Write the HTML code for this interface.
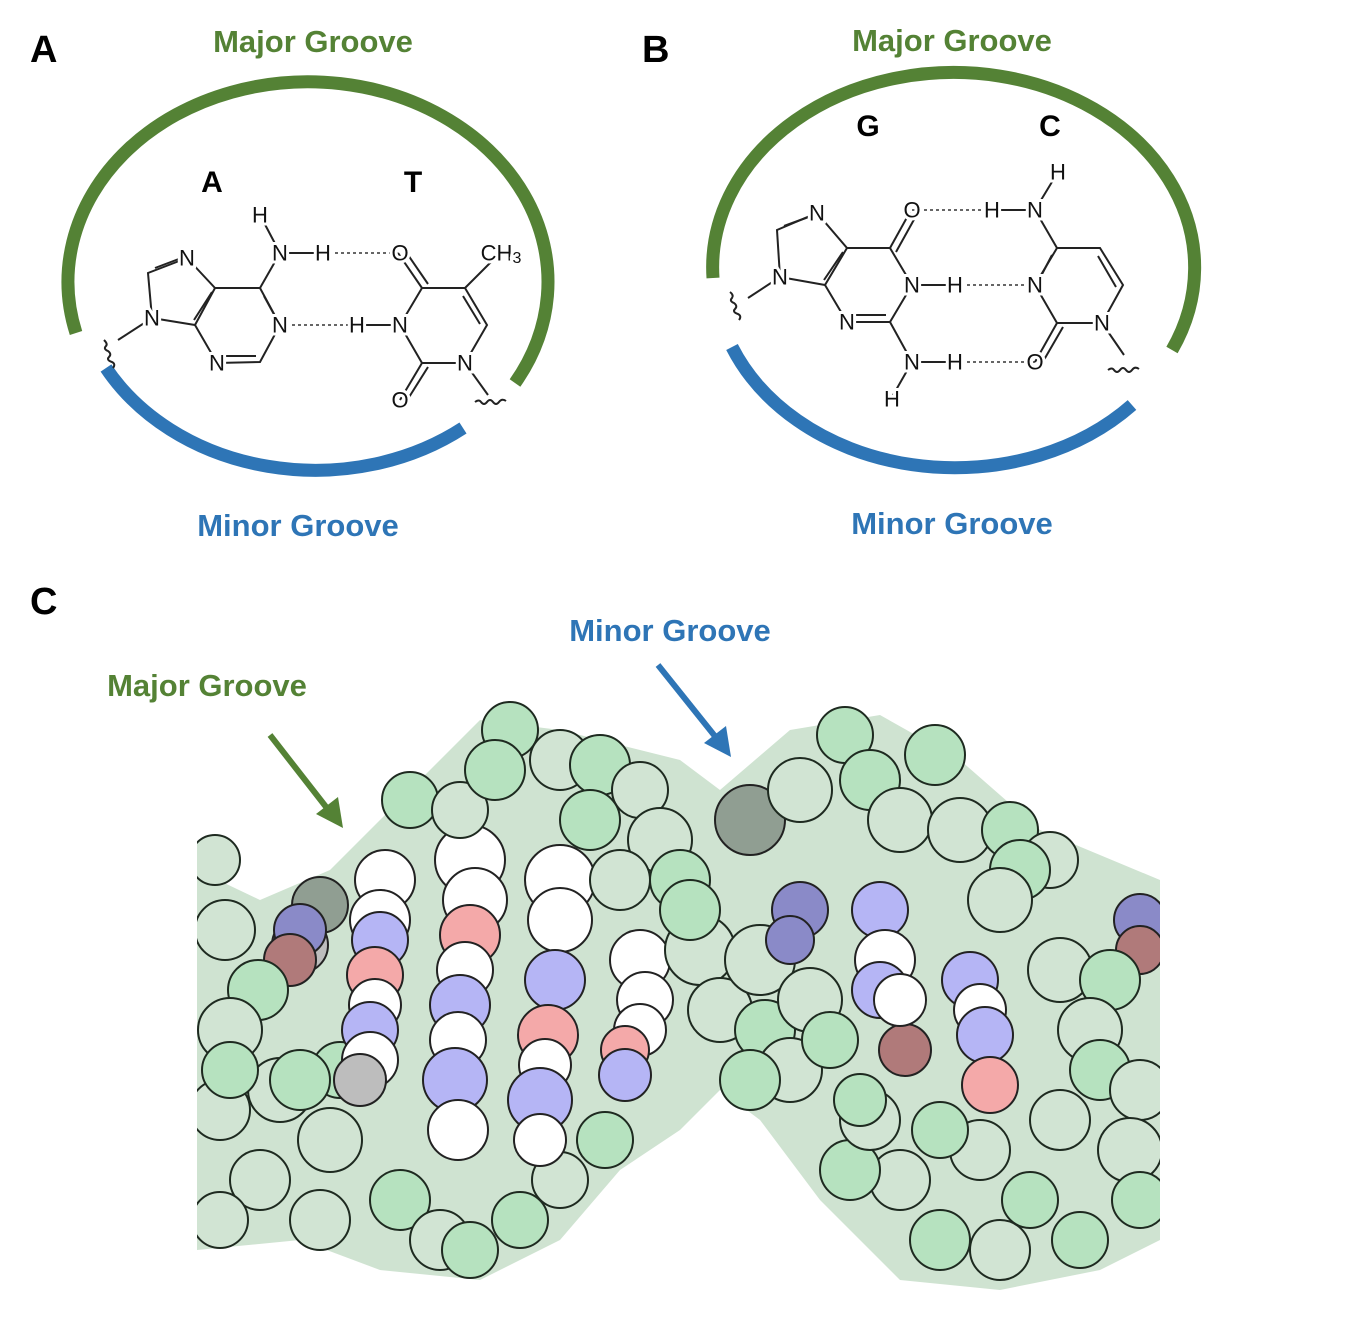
<!DOCTYPE html>
<html><head><meta charset="utf-8"><style>
html,body{margin:0;padding:0;background:#fff}
svg{display:block}
.lbl{font-family:"Liberation Sans",sans-serif;font-weight:bold}
.at{font-family:"Liberation Sans",sans-serif;font-size:22px;fill:#111;stroke:#fff;stroke-width:6px;paint-order:stroke;text-anchor:middle;dominant-baseline:central}
.b{stroke:#222;stroke-width:2;fill:none}
.hb{stroke:#333;stroke-width:1.6;stroke-dasharray:3,3;fill:none}
.g{fill:#b6e2bf;stroke:#1e2a20;stroke-width:2}
.p{fill:#d1e4d3;stroke:#1e2a20;stroke-width:2}
.w{fill:#fff;stroke:#222;stroke-width:2}
.bl{fill:#b5b5f5;stroke:#222;stroke-width:2}
.r{fill:#f4a9a9;stroke:#222;stroke-width:2}
.dg{fill:#909e92;stroke:#222;stroke-width:2}
.gr{fill:#bdbdbd;stroke:#222;stroke-width:2}
.db{fill:#8a8ac8;stroke:#222;stroke-width:2}
.dr{fill:#b07a7a;stroke:#222;stroke-width:2}
</style></head><body>
<svg width="1357" height="1331" viewBox="0 0 1357 1331" xmlns="http://www.w3.org/2000/svg">
<!-- Panel A -->
<text class="lbl" x="30" y="62" font-size="38">A</text>
<text class="lbl" x="313" y="52" font-size="31" fill="#548235" text-anchor="middle">Major Groove</text>
<text class="lbl" x="298" y="536" font-size="31" fill="#2e75b6" text-anchor="middle">Minor Groove</text>
<path d="M76,333 A240,200 0 1 1 515,383" fill="none" stroke="#548235" stroke-width="13"/>
<path d="M106,368 A240,200 0 0 0 463,428" fill="none" stroke="#2e75b6" stroke-width="13"/>
<text class="lbl" x="212" y="192" font-size="30" text-anchor="middle">A</text>
<text class="lbl" x="413" y="192" font-size="30" text-anchor="middle">T</text>
<g>
<polyline class="b" points="152,318 148,273 187,258 215,288 195,325 152,318"/>
<line class="b" x1="155" y1="268" x2="184" y2="257"/>
<line class="b" x1="212" y1="292" x2="194" y2="320"/>
<polyline class="b" points="215,288 260,288 280,325 260,362 217,363 195,325"/>
<line class="b" x1="264" y1="296" x2="276" y2="318"/>
<line class="b" x1="222" y1="356" x2="256" y2="356"/>
<line class="b" x1="260" y1="288" x2="280" y2="253"/>
<line class="b" x1="280" y1="253" x2="260" y2="215"/>
<line class="b" x1="280" y1="253" x2="323" y2="253"/>
<line class="hb" x1="323" y1="253" x2="398" y2="253"/>
<line class="hb" x1="280" y1="325" x2="357" y2="325"/>
<line class="b" x1="152" y1="318" x2="118" y2="340"/>
<path d="M104,340 q4,4 2,6 q-3,3 2,5 q4,3 1,6 q-3,3 3,5 q4,2 1,6" class="b" stroke-width="1.5"/>
<polyline class="b" points="422,288 465,288 487,325 465,363 422,363 400,325 422,288"/>
<line class="b" x1="463" y1="296" x2="480" y2="324"/>
<line class="b" x1="422" y1="288" x2="398" y2="253"/>
<line class="b" x1="428" y1="284" x2="406" y2="252"/>
<line class="b" x1="465" y1="288" x2="500" y2="253"/>
<line class="b" x1="400" y1="325" x2="357" y2="325"/>
<line class="b" x1="422" y1="363" x2="400" y2="400"/>
<line class="b" x1="428" y1="367" x2="406" y2="402"/>
<line class="b" x1="465" y1="363" x2="488" y2="395"/>
<path d="M475,402 q4,-3 6,0 q3,4 6,0 q3,-4 6,0 q3,4 6,0 q3,-4 7,-1" class="b" stroke-width="1.5"/>
<text class="at" x="152" y="318">N</text>
<text class="at" x="187" y="258">N</text>
<text class="at" x="280" y="325">N</text>
<text class="at" x="217" y="363">N</text>
<text class="at" x="280" y="253">N</text>
<text class="at" x="260" y="215">H</text>
<text class="at" x="323" y="253">H</text>
<text class="at" x="400" y="253">O</text>
<text class="at" x="400" y="325">N</text>
<text class="at" x="357" y="325">H</text>
<text class="at" x="465" y="363">N</text>
<text class="at" x="400" y="400">O</text>
<text class="at" x="501" y="253" text-anchor="start">CH<tspan font-size="16" dy="5">3</tspan></text>
</g>

<!-- Panel B -->
<text class="lbl" x="642" y="62" font-size="38">B</text>
<text class="lbl" x="952" y="51" font-size="31" fill="#548235" text-anchor="middle">Major Groove</text>
<text class="lbl" x="952" y="534" font-size="31" fill="#2e75b6" text-anchor="middle">Minor Groove</text>
<path d="M713,278 A241,195 0 1 1 1172,350" fill="none" stroke="#548235" stroke-width="13"/>
<path d="M732,347 A241,195 0 0 0 1132,405" fill="none" stroke="#2e75b6" stroke-width="13"/>
<text class="lbl" x="868" y="136" font-size="30" text-anchor="middle">G</text>
<text class="lbl" x="1050" y="136" font-size="30" text-anchor="middle">C</text>
<g>
<polyline class="b" points="780,277 777,230 817,213 847,248 825,285 780,277"/>
<line class="b" x1="784" y1="226" x2="814" y2="215"/>
<line class="b" x1="843" y1="252" x2="824" y2="280"/>
<polyline class="b" points="847,248 890,248 912,285 890,322 847,322 825,285"/>
<line class="b" x1="852" y1="315" x2="886" y2="315"/>
<line class="b" x1="890" y1="248" x2="910" y2="212"/>
<line class="b" x1="896" y1="252" x2="916" y2="216"/>
<line class="b" x1="912" y1="285" x2="955" y2="285"/>
<line class="b" x1="890" y1="322" x2="912" y2="362"/>
<line class="b" x1="912" y1="362" x2="955" y2="362"/>
<line class="b" x1="912" y1="362" x2="892" y2="397"/>
<line class="hb" x1="912" y1="210" x2="992" y2="210"/>
<line class="hb" x1="955" y1="285" x2="1035" y2="285"/>
<line class="hb" x1="955" y1="362" x2="1035" y2="362"/>
<line class="b" x1="780" y1="277" x2="748" y2="298"/>
<path d="M730,292 q4,3 2,6 q-3,3 2,5 q4,3 1,6 q-3,3 3,5 q4,2 1,6" class="b" stroke-width="1.5"/>
<polyline class="b" points="1057,248 1100,248 1123,285 1102,323 1057,323 1035,285 1057,248"/>
<line class="b" x1="1052" y1="255" x2="1040" y2="278"/>
<line class="b" x1="1098" y1="256" x2="1116" y2="287"/>
<line class="b" x1="1057" y1="248" x2="1035" y2="210"/>
<line class="b" x1="1035" y1="210" x2="1058" y2="172"/>
<line class="b" x1="1035" y1="210" x2="992" y2="210"/>
<line class="b" x1="1057" y1="323" x2="1035" y2="362"/>
<line class="b" x1="1063" y1="327" x2="1041" y2="365"/>
<line class="b" x1="1102" y1="323" x2="1124" y2="355"/>
<path d="M1108,370 q4,-3 6,0 q3,4 6,0 q3,-4 6,0 q3,4 6,0 q3,-4 7,-1" class="b" stroke-width="1.5"/>
<text class="at" x="780" y="277">N</text>
<text class="at" x="817" y="213">N</text>
<text class="at" x="912" y="285">N</text>
<text class="at" x="955" y="285">H</text>
<text class="at" x="847" y="322">N</text>
<text class="at" x="912" y="362">N</text>
<text class="at" x="955" y="362">H</text>
<text class="at" x="892" y="399">H</text>
<text class="at" x="912" y="210">O</text>
<text class="at" x="992" y="210">H</text>
<text class="at" x="1035" y="210">N</text>
<text class="at" x="1058" y="172">H</text>
<text class="at" x="1035" y="285">N</text>
<text class="at" x="1102" y="323">N</text>
<text class="at" x="1035" y="362">O</text>
</g>

<!-- Panel C -->
<text class="lbl" x="30" y="614" font-size="38">C</text>
<text class="lbl" x="670" y="641" font-size="31" fill="#2e75b6" text-anchor="middle">Minor Groove</text>
<text class="lbl" x="207" y="696" font-size="31" fill="#548235" text-anchor="middle">Major Groove</text>
<line x1="270" y1="735" x2="330" y2="812" stroke="#548235" stroke-width="6"/>
<polygon points="343,828 316,814 338,797" fill="#548235"/>
<line x1="658" y1="665" x2="718" y2="740" stroke="#2e75b6" stroke-width="6"/>
<polygon points="731,757 704,743 726,726" fill="#2e75b6"/>

<clipPath id="cl"><rect x="197" y="690" width="963" height="610"/></clipPath>
<g clip-path="url(#cl)">
<path d="M197,870 L260,900 330,870 400,800 480,720 560,730 680,760 720,790 790,730 880,715 960,760 1040,830 1160,880 L1160,1240 1100,1270 1000,1290 900,1280 820,1200 760,1120 720,1090 680,1130 620,1170 560,1240 480,1280 380,1270 300,1240 197,1250 Z" fill="#cfe3d1"/>
<circle class="dg" cx="320" cy="905" r="28"/><circle class="gr" cx="300" cy="945" r="28"/>
<circle class="db" cx="300" cy="930" r="26"/><circle class="dr" cx="290" cy="960" r="26"/>
<circle class="p" cx="215" cy="860" r="25"/><circle class="p" cx="225" cy="930" r="30"/>
<circle class="g" cx="258" cy="990" r="30"/><circle class="p" cx="230" cy="1030" r="32"/>
<circle class="p" cx="220" cy="1110" r="30"/><circle class="p" cx="280" cy="1090" r="32"/>
<circle class="g" cx="230" cy="1070" r="28"/>
<circle class="p" cx="260" cy="1180" r="30"/><circle class="p" cx="330" cy="1140" r="32"/>
<circle class="g" cx="340" cy="1070" r="28"/><circle class="p" cx="220" cy="1220" r="28"/>
<circle class="p" cx="320" cy="1220" r="30"/><circle class="g" cx="400" cy="1200" r="30"/>
<circle class="p" cx="440" cy="1240" r="30"/><circle class="g" cx="470" cy="1250" r="28"/>
<circle class="g" cx="520" cy="1220" r="28"/><circle class="p" cx="560" cy="1180" r="28"/>
<circle class="g" cx="605" cy="1140" r="28"/><circle class="g" cx="300" cy="1080" r="30"/>
<circle class="w" cx="385" cy="880" r="30"/><circle class="w" cx="380" cy="920" r="30"/>
<circle class="bl" cx="380" cy="940" r="28"/><circle class="r" cx="375" cy="975" r="28"/>
<circle class="w" cx="375" cy="1005" r="26"/><circle class="bl" cx="370" cy="1030" r="28"/>
<circle class="w" cx="370" cy="1060" r="28"/><circle class="gr" cx="360" cy="1080" r="26"/>
<circle class="w" cx="470" cy="860" r="35"/><circle class="w" cx="475" cy="900" r="32"/>
<circle class="r" cx="470" cy="935" r="30"/><circle class="w" cx="465" cy="970" r="28"/>
<circle class="bl" cx="460" cy="1005" r="30"/><circle class="w" cx="458" cy="1040" r="28"/>
<circle class="bl" cx="455" cy="1080" r="32"/><circle class="w" cx="458" cy="1130" r="30"/>
<circle class="w" cx="560" cy="880" r="35"/><circle class="w" cx="560" cy="920" r="32"/>
<circle class="bl" cx="555" cy="980" r="30"/><circle class="r" cx="548" cy="1035" r="30"/>
<circle class="w" cx="545" cy="1065" r="26"/><circle class="bl" cx="540" cy="1100" r="32"/>
<circle class="w" cx="540" cy="1140" r="26"/>
<circle class="w" cx="640" cy="960" r="30"/><circle class="w" cx="645" cy="1000" r="28"/>
<circle class="w" cx="640" cy="1030" r="26"/><circle class="r" cx="625" cy="1050" r="24"/>
<circle class="bl" cx="625" cy="1075" r="26"/>
<circle class="g" cx="410" cy="800" r="28"/><circle class="p" cx="460" cy="810" r="28"/>
<circle class="g" cx="510" cy="730" r="28"/><circle class="g" cx="495" cy="770" r="30"/>
<circle class="p" cx="560" cy="760" r="30"/><circle class="g" cx="600" cy="765" r="30"/>
<circle class="p" cx="640" cy="790" r="28"/><circle class="g" cx="590" cy="820" r="30"/>
<circle class="p" cx="660" cy="840" r="32"/><circle class="p" cx="620" cy="880" r="30"/>
<circle class="g" cx="680" cy="880" r="30"/>
<circle class="dg" cx="750" cy="820" r="35"/>
<circle class="p" cx="700" cy="950" r="35"/><circle class="g" cx="690" cy="910" r="30"/>
<circle class="p" cx="720" cy="1010" r="32"/><circle class="g" cx="765" cy="1030" r="30"/>
<circle class="p" cx="760" cy="960" r="35"/><circle class="p" cx="810" cy="1000" r="32"/>
<circle class="p" cx="790" cy="1070" r="32"/><circle class="g" cx="750" cy="1080" r="30"/>
<circle class="g" cx="845" cy="735" r="28"/><circle class="p" cx="800" cy="790" r="32"/>
<circle class="g" cx="870" cy="780" r="30"/><circle class="g" cx="935" cy="755" r="30"/>
<circle class="p" cx="900" cy="820" r="32"/><circle class="p" cx="960" cy="830" r="32"/>
<circle class="g" cx="1010" cy="830" r="28"/><circle class="p" cx="1050" cy="860" r="28"/>
<circle class="g" cx="1020" cy="870" r="30"/><circle class="p" cx="1000" cy="900" r="32"/>
<circle class="db" cx="800" cy="910" r="28"/><circle class="db" cx="790" cy="940" r="24"/>
<circle class="bl" cx="880" cy="910" r="28"/><circle class="w" cx="885" cy="960" r="30"/>
<circle class="bl" cx="880" cy="990" r="28"/><circle class="dr" cx="905" cy="1050" r="26"/>
<circle class="w" cx="900" cy="1000" r="26"/>
<circle class="bl" cx="970" cy="980" r="28"/><circle class="w" cx="980" cy="1010" r="26"/>
<circle class="bl" cx="985" cy="1035" r="28"/><circle class="r" cx="990" cy="1085" r="28"/>
<circle class="db" cx="1140" cy="920" r="26"/><circle class="dr" cx="1140" cy="950" r="24"/>
<circle class="p" cx="1060" cy="970" r="32"/><circle class="g" cx="1110" cy="980" r="30"/>
<circle class="p" cx="1090" cy="1030" r="32"/><circle class="g" cx="1100" cy="1070" r="30"/>
<circle class="p" cx="1140" cy="1090" r="30"/><circle class="p" cx="1130" cy="1150" r="32"/>
<circle class="g" cx="1140" cy="1200" r="28"/><circle class="p" cx="1060" cy="1120" r="30"/>
<circle class="g" cx="1030" cy="1200" r="28"/><circle class="p" cx="980" cy="1150" r="30"/>
<circle class="g" cx="940" cy="1130" r="28"/><circle class="p" cx="900" cy="1180" r="30"/>
<circle class="g" cx="850" cy="1170" r="30"/><circle class="p" cx="870" cy="1120" r="30"/>
<circle class="g" cx="940" cy="1240" r="30"/><circle class="p" cx="1000" cy="1250" r="30"/>
<circle class="g" cx="1080" cy="1240" r="28"/><circle class="g" cx="860" cy="1100" r="26"/>
<circle class="g" cx="830" cy="1040" r="28"/>
</g>
</svg>
</body></html>
